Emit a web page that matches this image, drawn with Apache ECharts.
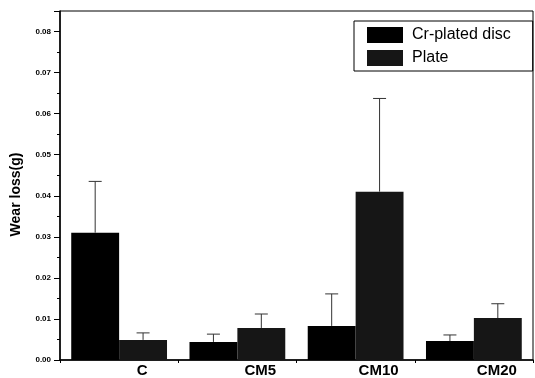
<!DOCTYPE html>
<html><head><meta charset="utf-8">
<script src="https://cdn.jsdelivr.net/npm/echarts@6/dist/echarts.min.js"></script>
<style>html,body{margin:0;padding:0;background:#fff}#c{width:535px;height:378px}</style>
</head><body><div id="c"></div>
<script>
var categories = ['C', 'CM5', 'CM10', 'CM20'];
var seriesNames = ['Cr-plated disc', 'Plate'];
var crDisc = [0.0310, 0.0044, 0.0083, 0.0046];
var crDiscErrTop = [0.0435, 0.0063, 0.0161, 0.0061];
var plate = [0.0049, 0.0078, 0.0410, 0.0102];
var plateErrTop = [0.0066, 0.0112, 0.0637, 0.0137];
var yTicks = ['0.00','0.01','0.02','0.03','0.04','0.05','0.06','0.07','0.08'];

var BAR_FRAC = 0.405;
function errSeries(vals, tops, side) {
  return {
    type: 'custom', z: 5,
    data: vals.map(function (v, i) { return [i, v, tops[i]]; }),
    encode: { x: 0, y: [1, 2] },
    renderItem: function (params, api) {
      var i = api.value(0);
      var catW = api.size([1, 0])[0];
      var off = side * catW * BAR_FRAC / 2;
      var p0 = api.coord([i, api.value(1)]);
      var p1 = api.coord([i, api.value(2)]);
      var x = p0[0] + off;
      var st = { stroke: '#333', lineWidth: 1 };
      return { type: 'group', children: [
        { type: 'line', shape: { x1: x, y1: p0[1], x2: x, y2: p1[1] }, style: st },
        { type: 'line', shape: { x1: x - 6.5, y1: p1[1], x2: x + 6.5, y2: p1[1] }, style: st }
      ]};
    },
    silent: true
  };
}

var chart = echarts.init(document.getElementById('c'), null, { renderer: 'canvas' });
chart.setOption({
  animation: false,
  backgroundColor: '#fff',
  grid: { left: 60, top: 11, right: 2, bottom: 17, show: true, borderColor: '#000', borderWidth: 1 },
  legend: {
    left: 354, top: 21, orient: 'vertical',
    data: seriesNames,
    icon: 'rect', itemWidth: 36, itemHeight: 16, itemGap: 7,
    padding: [6, 22, 5, 13],
    borderColor: '#000', borderWidth: 1,
    textStyle: { fontFamily: 'Liberation Sans, Arial', fontSize: 16, color: '#000', padding: [0, 0, 0, 4] }
  },
  xAxis: {
    type: 'category', data: categories,
    axisLine: { lineStyle: { color: '#000', width: 1.5 } },
    axisTick: { show: true, length: 3, lineStyle: { color: '#000' } },
    axisLabel: { fontFamily: 'Liberation Sans, Arial', fontWeight: 'bold', fontSize: 15, color: '#000', margin: 3, padding: [0, 0, 0, 46] }
  },
  yAxis: {
    type: 'value', min: 0, max: 0.085, interval: 0.01,
    name: 'Wear loss(g)', nameLocation: 'middle', nameGap: 37,
    nameTextStyle: { fontFamily: 'Liberation Sans, Arial', fontWeight: 'bold', fontSize: 14, color: '#000', padding: [0, 18, 0, 0] },
    axisLine: { show: true, lineStyle: { color: '#000', width: 1.5 } },
    axisTick: { show: true, length: 6, lineStyle: { color: '#000' } },
    minorTick: { show: true, splitNumber: 2, length: 3, lineStyle: { color: '#000' } },
    splitLine: { show: false },
    axisLabel: {
      fontFamily: 'Liberation Sans, Arial', fontWeight: 'bold', fontSize: 8, color: '#000', margin: 9,
      showMaxLabel: false,
      formatter: function (v) {
        var k = Math.round(v * 100);
        if (Math.abs(v * 100 - k) > 1e-6) return '';
        return yTicks[k] || '';
      }
    }
  },
  series: [
    { name: seriesNames[0], type: 'bar', data: crDisc, barWidth: (BAR_FRAC * 100) + '%', barGap: '0%', itemStyle: { color: '#000' } },
    { name: seriesNames[1], type: 'bar', data: plate, barWidth: (BAR_FRAC * 100) + '%', barGap: '0%', itemStyle: { color: '#161616' } },
    errSeries(crDisc, crDiscErrTop, -1),
    errSeries(plate, plateErrTop, 1)
  ]
});
</script></body></html>
